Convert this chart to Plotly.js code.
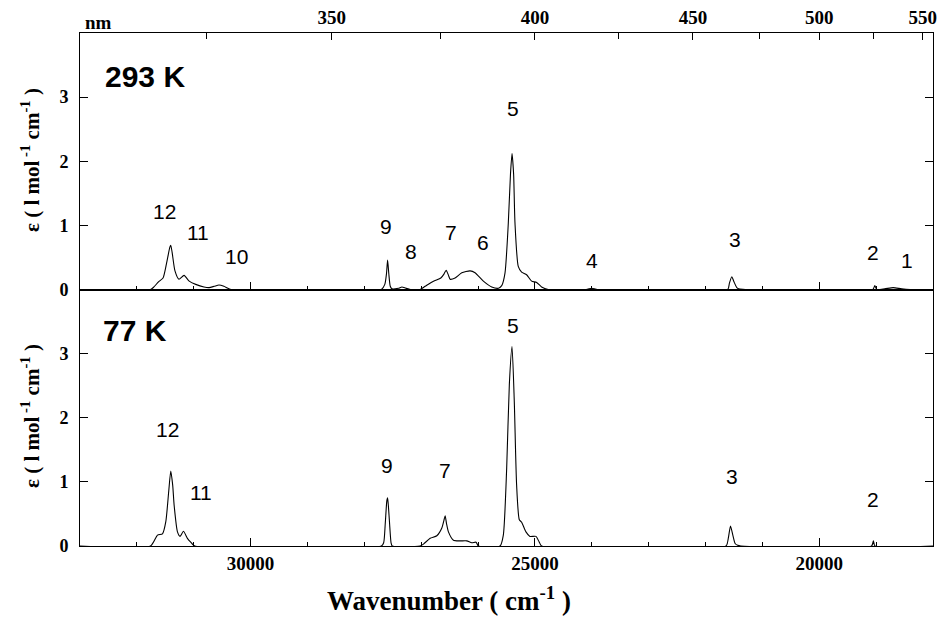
<!DOCTYPE html>
<html>
<head>
<meta charset="utf-8">
<script src="https://cdn.plot.ly/plotly-3.0.1.min.js"></script>
<style>html,body{margin:0;padding:0;background:#fff}#chart{width:945px;height:618px}</style>
</head>
<body>
<div id="chart"></div>
<script>
// ---- Data ----
// 293 K spectrum: wavenumber (cm^-1) and epsilon (l mol^-1 cm^-1)
var wn293 = [33000, 31760, 31700, 31620, 31540, 31480, 31420, 31404, 31380, 31330, 31260, 31170, 31080, 30965, 30820, 30730, 30640, 30556, 30470, 30400, 30340,
  27700, 27640, 27610, 27591, 27570, 27544, 27514, 27400, 27339, 27270, 27190,
  27020, 26930, 26784, 26655, 26600, 26561, 26520, 26491, 26404, 26286, 26140, 26053, 25907, 25760, 25640,
  25584, 25526, 25468, 25430, 25403, 25375, 25351, 25293, 25234, 25146, 25058, 24970, 24883, 24766,
  24100, 24000, 23900,
  21610, 21580, 21538, 21500, 21450, 21415, 21300,
  19060, 19023, 18990, 18850, 18700, 18550, 18400, 18000];
var eps293 = [0, 0, 0.04, 0.12, 0.18, 0.40, 0.66, 0.69, 0.58, 0.29, 0.16, 0.22, 0.13, 0.08, 0.04, 0.03, 0.05, 0.07, 0.05, 0.02, 0,
  0, 0.08, 0.25, 0.46, 0.25, 0.05, 0.01, 0.02, 0.04, 0.02, 0,
  0, 0.05, 0.13, 0.18, 0.24, 0.30, 0.22, 0.16, 0.18, 0.26, 0.29, 0.26, 0.13, 0.04, 0.02,
  0.06, 0.26, 1.04, 1.80, 2.12, 1.80, 1.04, 0.36, 0.27, 0.23, 0.13, 0.11, 0.04, 0,
  0, 0.02, 0,
  0, 0.10, 0.20, 0.12, 0.03, 0.01, 0,
  0, 0.06, 0, 0.01, 0.03, 0.01, 0, 0];

// 77 K spectrum
var wn77 = [33000, 31760, 31637, 31550, 31491, 31440, 31404, 31370, 31345, 31286, 31240, 31181, 31111, 31053, 30982,
  27700, 27660, 27632, 27605, 27591, 27575, 27556, 27530, 27510,
  27020, 26960, 26842, 26725, 26637, 26600, 26579, 26555, 26521, 26433, 26316, 26198, 26111, 26035, 25995,
  25614, 25556, 25497, 25450, 25403, 25363, 25322, 25275, 25234, 25158, 25088, 24982, 24924, 24883,
  21640, 21600, 21561, 21520, 21480, 21434, 21380,
  19080, 19048, 19020, 18000];
var eps77 = [0, 0, 0.17, 0.19, 0.38, 0.85, 1.17, 0.95, 0.64, 0.22, 0.15, 0.23, 0.12, 0.06, 0,
  0, 0.05, 0.35, 0.70, 0.75, 0.60, 0.35, 0.05, 0,
  0, 0.03, 0.12, 0.16, 0.28, 0.40, 0.47, 0.35, 0.22, 0.09, 0.08, 0.08, 0.05, 0.06, 0,
  0, 0.17, 1.21, 2.52, 3.11, 2.25, 0.95, 0.41, 0.37, 0.22, 0.15, 0.15, 0.06, 0,
  0, 0.12, 0.31, 0.17, 0.04, 0.01, 0,
  0, 0.08, 0, 0];

// Band labels (text and placement in data units)
var bands293 = ["12", "11", "10", "9", "8", "7", "6", "5", "4", "3", "2", "1"];
var bands293X = [31509, 30930, 30246, 27614, 27175, 26474, 25912, 25386, 24000, 21474, 19053, 18456];
var bands293Y = [1.22, 0.89, 0.52, 0.98, 0.59, 0.89, 0.73, 2.83, 0.45, 0.78, 0.58, 0.45];
var bands77 = ["12", "11", "9", "7", "5", "3", "2"];
var bands77X = [31456, 30877, 27596, 26579, 25386, 21526, 19053];
var bands77Y = [1.81, 0.83, 1.25, 1.17, 3.44, 1.09, 0.72];

// Axis ticks
var wnTickVals = [30000, 25000, 20000];
var wnTickText = ["30000", "25000", "20000"];
var nmMajor = [350, 400, 450, 500, 550];
var nmMajorLabels = ["350", "400", "450", "500", "550"];
var nmMinor = [325, 375, 425, 475, 525];
var epsTicks = [0, 1, 2, 3];

var xRange = [33000, 18000];
var yRange = [0, 4.0];

var serifFam = "Liberation Serif, Times New Roman, serif";
var sans = "Liberation Sans, Arial, sans-serif";
function serifBold(sz) { return {family: serifFam, size: sz, color: "#000", weight: 700}; }
function toWn(nm) { return 1e7 / nm; }

var traces = [
  {x: wn293, y: eps293, xaxis: "x2", yaxis: "y", type: "scatter", mode: "lines",
   line: {color: "#000", width: 1.1, shape: "spline", smoothing: 0.6}, hoverinfo: "skip"},
  {x: wn77, y: eps77, xaxis: "x", yaxis: "y2", type: "scatter", mode: "lines",
   line: {color: "#000", width: 1.1, shape: "spline", smoothing: 0.6}, hoverinfo: "skip"},
  // same 293 K data, invisible, so that the top wavelength axes are drawn
  {x: wn293, y: eps293, xaxis: "x3", yaxis: "y", type: "scatter", mode: "lines",
   opacity: 0, line: {color: "#000", width: 1}, hoverinfo: "skip"},
  {x: wn293, y: eps293, xaxis: "x4", yaxis: "y", type: "scatter", mode: "lines",
   opacity: 0, line: {color: "#000", width: 1}, hoverinfo: "skip"}
];

var annotations = [];
bands293.forEach(function(t, i) {
  annotations.push({text: t, x: bands293X[i], y: bands293Y[i], xref: "x2", yref: "y", showarrow: false,
    xanchor: "center", yanchor: "middle", font: {family: sans, size: 21, color: "#000"}});
});
bands77.forEach(function(t, i) {
  annotations.push({text: t, x: bands77X[i], y: bands77Y[i], xref: "x", yref: "y2", showarrow: false,
    xanchor: "center", yanchor: "middle", font: {family: sans, size: 21, color: "#000"}});
});
function paperNote(text, px, py, font, angle) {
  annotations.push({text: text, x: (px - 80) / 853, y: (546 - py) / 513, xref: "paper", yref: "paper",
    showarrow: false, xanchor: "center", yanchor: "middle", textangle: angle || 0, font: font});
}
paperNote("293 K", 145, 76, {family: sans, size: 30, color: "#000", weight: 700});
paperNote("77 K", 135, 330, {family: sans, size: 30, color: "#000", weight: 700});
var yTitle = "\u03b5 ( l mol<sup> -1</sup> cm<sup>-1</sup> )";
paperNote(yTitle, 30, 160, serifBold(21), -90);
paperNote(yTitle, 30, 416, serifBold(21), -90);
paperNote("Wavenumber ( cm<sup>-1</sup> )", 449, 599, serifBold(27));
paperNote("nm", 98, 22, serifBold(19));

function xAxisBase() {
  return {
    range: xRange, autorange: false, showgrid: false, zeroline: false,
    showline: true, linecolor: "#000", linewidth: 1,
    ticks: "inside", ticklen: 8, tickcolor: "#000", tickwidth: 1,
    tickvals: wnTickVals, ticktext: wnTickText,
    minor: {dtick: 1000, tick0: 0, ticks: "inside", ticklen: 4, tickcolor: "#000", showgrid: false},
    tickfont: serifBold(19), fixedrange: true
  };
}
function yAxisBase(dom) {
  return {
    domain: dom, range: yRange, autorange: false, tickvals: epsTicks,
    ticks: "inside", ticklen: 8, tickcolor: "#000", mirror: "ticks", showline: true, linecolor: "#000",
    showgrid: false, zeroline: false, tickfont: serifBold(18),
    ticklabelstandoff: 7, fixedrange: true
  };
}

var layout = {
  width: 945, height: 618,
  margin: {l: 80, r: 12, t: 33, b: 72},
  paper_bgcolor: "#fff", plot_bgcolor: "#fff",
  showlegend: false,
  xaxis: Object.assign(xAxisBase(), {anchor: "y2", domain: [0, 1], mirror: true}),
  xaxis2: Object.assign(xAxisBase(), {anchor: "y", domain: [0, 1], showticklabels: false, mirror: true}),
  xaxis3: {
    overlaying: "x2", side: "top", anchor: "y", range: xRange, autorange: false,
    tickvals: nmMajor.map(toWn), ticktext: nmMajorLabels,
    ticks: "inside", ticklen: 7, tickcolor: "#000", showline: true, linecolor: "#000",
    showgrid: false, zeroline: false, tickfont: serifBold(19), fixedrange: true
  },
  xaxis4: {
    overlaying: "x2", side: "top", anchor: "y", range: xRange, autorange: false,
    tickvals: nmMinor.map(toWn), showticklabels: false,
    ticks: "inside", ticklen: 6, tickcolor: "#000", showline: false,
    showgrid: false, zeroline: false, fixedrange: true
  },
  yaxis: yAxisBase([0.5, 1]),
  yaxis2: yAxisBase([0, 0.5]),
  annotations: annotations
};

Plotly.newPlot("chart", traces, layout, {displayModeBar: false, staticPlot: true});
</script>
</body>
</html>
